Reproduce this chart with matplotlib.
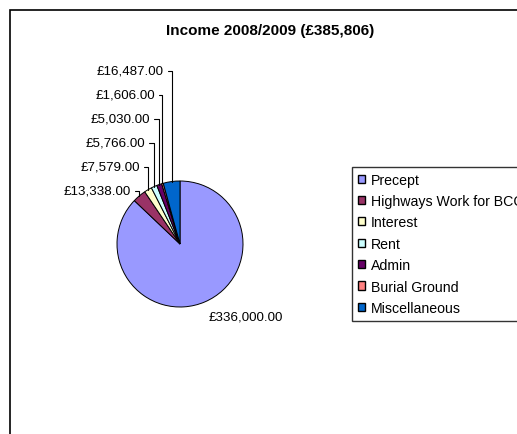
import matplotlib
matplotlib.use('Agg')
import matplotlib.pyplot as plt
from matplotlib.patches import Rectangle
import numpy as np

plt.rcParams['font.family'] = ['Liberation Sans', 'DejaVu Sans']

# Income 2008/2009
categories = ['Precept', 'Highways Work for BCC', 'Interest', 'Rent',
              'Admin', 'Burial Ground', 'Miscellaneous']
amounts = [336000, 13338, 7579, 5766, 5030, 1606, 16487]
colors = ['#9999FF', '#993366', '#FFFFCC', '#CCFFFF',
          '#660066', '#FF8080', '#0066CC']

W, H = 517, 435
# pie centre / radius in pixel units (y measured from bottom)
CX, CY, R = 180, 190, 63

# label anchors in pixels from top-left (right end of text, vertical centre)
label_pos = [(246, 318), (131, 192), (140, 168), (145, 144),
             (150, 120), (155, 96), (164, 72)]

fig = plt.figure(figsize=(W / 100, H / 100), dpi=100)
ax = fig.add_axes([0, 0, 1, 1])

wedges, _ = ax.pie(
    amounts, colors=colors, startangle=90, counterclock=False,
    center=(CX, CY), radius=R,
    wedgeprops=dict(edgecolor='black', linewidth=0.7),
)
ax.set_xlim(0, W)
ax.set_ylim(0, H)
ax.set_aspect('equal')
ax.set_axis_off()

for i, (w, amt) in enumerate(zip(wedges, amounts)):
    text = '£{:,.2f}'.format(amt)
    px, py = label_pos[i]
    if i == 0:
        ax.text(px, H - py, text, ha='center', va='center', fontsize=9.6)
        continue
    mid = np.deg2rad((w.theta1 + w.theta2) / 2)
    ex = CX + R * np.cos(mid)
    ey = CY + R * np.sin(mid)
    ax.annotate(
        text, xy=(ex, ey), xytext=(px, H - py), ha='right', va='center',
        fontsize=9.6,
        arrowprops=dict(arrowstyle='-', color='black', lw=0.8,
                        relpos=(1, 0.5), shrinkA=1, shrinkB=0,
                        connectionstyle='angle,angleA=0,angleB=90,rad=0'),
    )

fig.text(270 / W, 1 - 31 / H, 'Income 2008/2009 (£385,806)',
         ha='center', va='center', fontsize=11, fontweight='bold')

leg = ax.legend(
    wedges, categories, loc='upper left',
    bbox_to_anchor=(352 / W, 1 - 168 / H), bbox_transform=fig.transFigure,
    borderaxespad=0, fancybox=False, shadow=False, fontsize=10.2,
    handlelength=0.5, handleheight=0.5, handletextpad=0.45,
    labelspacing=0.52, borderpad=0.4,
)
leg.get_frame().set_edgecolor('black')
leg.get_frame().set_linewidth(1)
for h in leg.legend_handles:
    h.set_linewidth(1)

# chart area border (right and bottom edges fall outside the image)
fig.patches.append(Rectangle((10 / W, -0.5), 2, 1.5 - 11 / H,
                             transform=fig.transFigure, fill=False,
                             edgecolor='black', linewidth=1.2))

fig.savefig('out.png', dpi=100)
